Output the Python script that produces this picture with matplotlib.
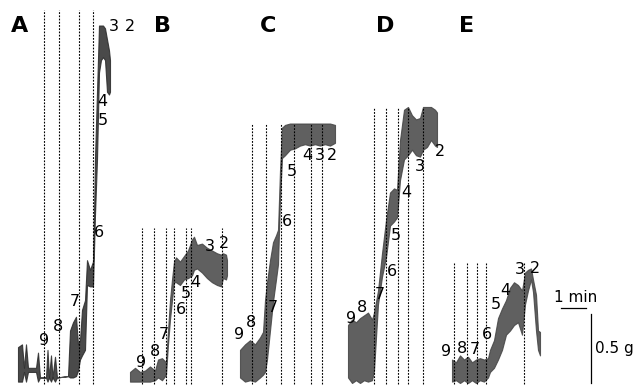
import matplotlib
matplotlib.use("Agg")
import matplotlib.pyplot as plt

# ---- data: isometric tension traces (time in min, tension in g) ----
panel_names = ["A", "B", "C", "D", "E"]

a_t  = [0.72, 0.88, 0.96, 1.04, 1.12, 1.44, 1.52, 1.60, 1.84, 1.90, 1.96, 2.04, 2.10, 2.20, 2.28, 2.72, 2.80, 2.92, 3.04, 3.12, 3.20, 3.28, 3.40, 3.48, 3.60, 3.72, 3.76, 3.80, 3.88, 3.96, 4.04, 4.12, 4.20, 4.28, 4.36, 4.40]
a_lo = [0.01, 0.01, 0.08, 0.01, 0.08, 0.08, 0.01, 0.04, 0.04, 0.01, 0.04, 0.01, 0.04, 0.01, 0.04, 0.05, 0.04, 0.04, 0.05, 0.09, 0.17, 0.20, 0.24, 0.71, 0.70, 0.70, 0.96, 1.22, 1.62, 2.25, 2.34, 2.36, 2.34, 2.11, 2.09, 2.11]
a_hi = [0.26, 0.28, 0.11, 0.28, 0.11, 0.11, 0.22, 0.04, 0.04, 0.24, 0.04, 0.20, 0.04, 0.19, 0.04, 0.05, 0.38, 0.44, 0.48, 0.28, 0.31, 0.53, 0.60, 0.89, 0.82, 0.88, 1.22, 1.63, 2.11, 2.59, 2.59, 2.59, 2.57, 2.49, 2.41, 2.34]

b_t  = [5.20, 5.40, 5.60, 5.80, 6.00, 6.20, 6.32, 6.48, 6.64, 6.72, 6.80, 6.88, 6.96, 7.04, 7.20, 7.36, 7.52, 7.68, 7.76, 7.88, 8.08, 8.28, 8.48, 8.68, 8.84, 8.92, 9.04, 9.08]
b_lo = [0.01, 0.01, 0.01, 0.01, 0.01, 0.02, 0.04, 0.02, 0.06, 0.28, 0.46, 0.60, 0.73, 0.73, 0.71, 0.75, 0.76, 0.78, 0.82, 0.83, 0.80, 0.76, 0.73, 0.71, 0.70, 0.76, 0.75, 0.78]
b_hi = [0.08, 0.11, 0.08, 0.09, 0.12, 0.09, 0.17, 0.18, 0.15, 0.38, 0.60, 0.75, 0.88, 0.91, 0.88, 0.92, 0.96, 1.04, 1.06, 1.00, 1.01, 0.98, 0.96, 0.94, 0.93, 0.94, 0.93, 0.89]

c_t  = [9.60, 9.80, 10.00, 10.20, 10.40, 10.52, 10.60, 10.68, 10.80, 10.92, 11.04, 11.12, 11.20, 11.28, 11.40, 11.60, 11.80, 12.00, 12.20, 12.40, 12.60, 12.80, 13.00, 13.20, 13.40]
c_lo = [0.04, 0.01, 0.02, 0.01, 0.04, 0.06, 0.08, 0.17, 0.38, 0.59, 0.75, 0.86, 1.33, 1.63, 1.65, 1.69, 1.70, 1.72, 1.73, 1.72, 1.73, 1.72, 1.73, 1.72, 1.74]
c_hi = [0.24, 0.28, 0.31, 0.28, 0.33, 0.37, 0.60, 0.73, 0.89, 1.02, 1.07, 1.11, 1.54, 1.85, 1.87, 1.88, 1.88, 1.88, 1.88, 1.88, 1.88, 1.88, 1.88, 1.88, 1.87]

d_t  = [13.92, 14.08, 14.24, 14.40, 14.56, 14.72, 14.88, 14.96, 15.12, 15.28, 15.44, 15.60, 15.76, 15.88, 16.00, 16.16, 16.32, 16.48, 16.64, 16.80, 16.92, 17.08, 17.24, 17.40, 17.48]
d_lo = [0.04, 0.00, 0.02, 0.00, 0.02, 0.01, 0.02, 0.09, 0.57, 0.77, 0.91, 1.14, 1.17, 1.20, 1.47, 1.62, 1.65, 1.69, 1.65, 1.64, 1.69, 1.71, 1.76, 1.72, 1.71]
d_hi = [0.42, 0.46, 0.44, 0.47, 0.49, 0.51, 0.46, 0.51, 0.67, 0.94, 1.18, 1.38, 1.41, 1.40, 1.76, 1.98, 2.00, 1.94, 1.91, 1.92, 2.00, 2.00, 2.00, 1.98, 1.96]

e_t  = [18.08, 18.24, 18.40, 18.56, 18.72, 18.88, 19.04, 19.20, 19.36, 19.52, 19.60, 19.76, 19.92, 20.08, 20.24, 20.40, 20.56, 20.72, 20.88, 21.00, 21.12, 21.24, 21.32, 21.44, 21.52, 21.60]
e_lo = [0.01, 0.02, 0.00, 0.02, 0.00, 0.02, 0.00, 0.02, 0.01, 0.04, 0.08, 0.11, 0.17, 0.24, 0.35, 0.38, 0.42, 0.44, 0.35, 0.57, 0.67, 0.75, 0.66, 0.38, 0.24, 0.20]
e_hi = [0.17, 0.15, 0.20, 0.17, 0.19, 0.15, 0.17, 0.18, 0.17, 0.18, 0.24, 0.31, 0.47, 0.54, 0.60, 0.69, 0.73, 0.71, 0.67, 0.80, 0.82, 0.83, 0.75, 0.64, 0.38, 0.37]

# drug-addition marks (time, min) and the concentration labels
conc_labels = ["9", "8", "7", "6", "5", "4", "3", "2"]
a_marks = [1.76, 2.34, 3.16, 3.72]
b_marks = [5.68, 6.14, 6.63, 6.94, 7.43, 7.63, 8.87]
c_marks = [10.08, 10.62, 11.22, 11.74, 12.43, 12.88]
d_marks = [14.97, 15.43, 15.93, 16.31, 16.93]
e_marks = [18.16, 18.66, 19.09, 19.43, 20.96]
mark_tops = [2.70, 1.12, 1.88, 2.00, 0.88]

# label anchor positions (min, g) per panel, order 9..2
a_lab_t = [1.76, 2.32, 3.00, 3.97, 4.13, 4.11, 4.57, 5.20]
a_lab_g = [0.31, 0.41, 0.59, 1.09, 1.90, 2.04, 2.58, 2.58]
b_lab_t = [5.63, 6.20, 6.57, 7.24, 7.44, 7.83, 8.40, 8.97]
b_lab_g = [0.15, 0.23, 0.35, 0.53, 0.65, 0.73, 0.99, 1.01]
c_lab_t = [9.56, 10.04, 10.91, 11.47, 11.69, 12.29, 12.80, 13.29]
c_lab_g = [0.35, 0.44, 0.55, 1.17, 1.53, 1.65, 1.65, 1.65]
d_lab_t = [14.03, 14.47, 15.20, 15.69, 15.83, 16.24, 16.80, 17.60]
d_lab_g = [0.47, 0.55, 0.64, 0.81, 1.07, 1.38, 1.57, 1.68]
e_lab_t = [17.84, 18.47, 19.00, 19.49, 19.84, 20.20, 20.80, 21.40]
e_lab_g = [0.23, 0.25, 0.24, 0.35, 0.57, 0.67, 0.82, 0.83]

panel_letter_t = [0.80, 6.48, 10.72, 15.40, 18.68]
panel_letter_g = 2.59

# ---- figure ----
fig = plt.figure(figsize=(6.38, 3.87), dpi=100)
ax = fig.add_axes([0, 0, 1, 1])
ax.set_xlim(0, 25.52)
ax.set_ylim(-0.029, 2.775)
ax.axis("off")

traces = [(a_t, a_lo, a_hi), (b_t, b_lo, b_hi), (c_t, c_lo, c_hi),
          (d_t, d_lo, d_hi), (e_t, e_lo, e_hi)]
marks = [a_marks, b_marks, c_marks, d_marks, e_marks]
labels_pos = [(a_lab_t, a_lab_g), (b_lab_t, b_lab_g), (c_lab_t, c_lab_g),
              (d_lab_t, d_lab_g), (e_lab_t, e_lab_g)]

for i, (t, lo, hi) in enumerate(traces):
    col = "#2a2a2a" if i == 0 else "#444444"
    ax.fill_between(t, lo, hi, color=col, alpha=0.85, linewidth=0.8,
                    edgecolor=col)
    ax.vlines(marks[i], -0.005, mark_tops[i], colors="black",
              linewidth=0.8, linestyles=(0, (1.6, 1.3)))
    lt, lg = labels_pos[i]
    for txt, x, y in zip(conc_labels, lt, lg):
        ax.text(x, y, txt, fontsize=11.5, ha="center", va="center",
                color="black", family="DejaVu Sans")
    ax.text(panel_letter_t[i], panel_letter_g, panel_names[i], fontsize=16,
            fontweight="bold", ha="center", va="center", color="black")

# scale bars
ax.plot([22.44, 23.44], [0.54, 0.54], color="black", linewidth=0.9)
ax.text(23.04, 0.62, "1 min", fontsize=11, ha="center", va="center")
ax.plot([23.64, 23.64], [0.0, 0.5], color="black", linewidth=0.9)
ax.text(23.80, 0.25, "0.5 g", fontsize=11, ha="left", va="center")

fig.savefig("out.png", dpi=100)
